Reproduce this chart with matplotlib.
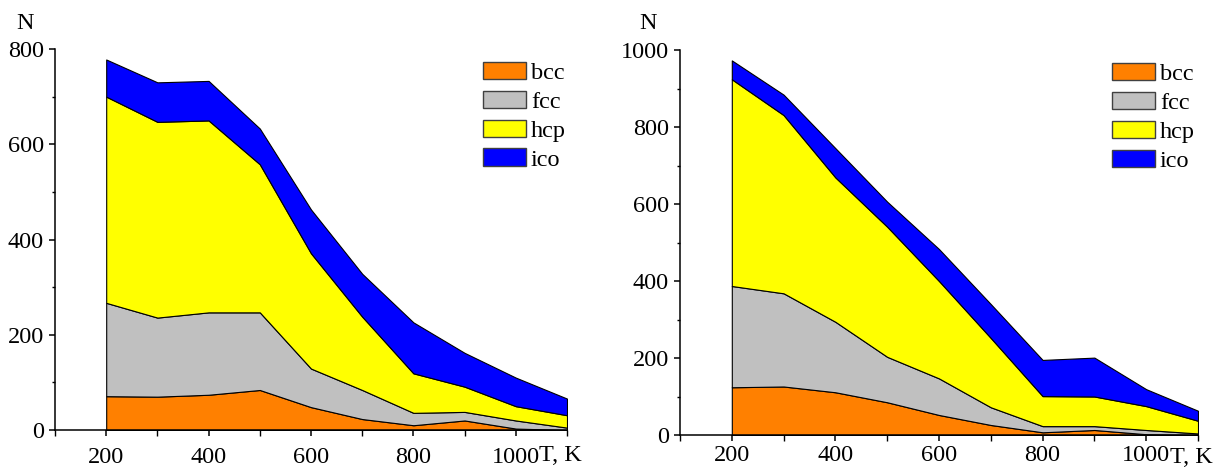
import matplotlib
matplotlib.use("Agg")
import matplotlib.pyplot as plt
from matplotlib.patches import Patch
from matplotlib.ticker import MultipleLocator
import numpy as np

plt.rcParams['font.family'] = ['Liberation Serif', 'DejaVu Serif']
FS = 17.5
plt.rcParams['font.size'] = FS

# Temperature grid, K
T = [200, 300, 400, 500, 600, 700, 800, 900, 1000, 1100]

structures = ["bcc", "fcc", "hcp", "ico"]
colors = ["#FF8000", "#C0C0C0", "#FFFF00", "#0000FF"]

# Number of atoms in each local structure (left panel)
bcc_a = [71, 70, 74, 84, 48, 23, 10, 20, 3, 0]
fcc_a = [196, 166, 173, 163, 81, 61, 26, 18, 17, 5]
hcp_a = [433, 411, 403, 311, 242, 154, 83, 53, 30, 26]
ico_a = [78, 83, 83, 75, 92, 90, 107, 71, 60, 35]

# Number of atoms in each local structure (right panel)
bcc_b = [124, 126, 111, 85, 52, 26, 7, 13, 2, 0]
fcc_b = [263, 242, 183, 118, 95, 46, 16, 10, 11, 4]
hcp_b = [537, 463, 375, 338, 253, 180, 78, 77, 62, 33]
ico_b = [49, 53, 76, 65, 83, 88, 94, 101, 44, 26]

W, H = 1224, 468
fig = plt.figure(figsize=(W / 100, H / 100), dpi=100)
ax1 = fig.add_axes([55 / W, (H - 430) / H, 512 / W, 381 / H])
ax2 = fig.add_axes([680 / W, (H - 435) / H, 518 / W, 385 / H])


def draw_panel(ax, layers, ymax, legend_anchor, n_x, tk_x, tk_y, xpad):
    base = np.zeros(len(T))
    for vals, col in zip(layers, colors):
        top = base + np.asarray(vals, dtype=float)
        ax.fill_between(T, base, top, facecolor=col, edgecolor="black",
                        linewidth=0.8)
        base = top
    ax.set_xlim(100, 1100)
    ax.set_ylim(0, ymax)
    for s in ("top", "right"):
        ax.spines[s].set_visible(False)
    for s in ("left", "bottom"):
        ax.spines[s].set_linewidth(1.1)
    ax.xaxis.set_minor_locator(MultipleLocator(100))
    ax.yaxis.set_major_locator(MultipleLocator(200))
    ax.yaxis.set_minor_locator(MultipleLocator(100))
    ax.set_xticks([200, 400, 600, 800, 1000])
    ax.tick_params(axis="both", which="major", direction="out", length=4,
                   width=1.1, labelsize=FS)
    ax.tick_params(axis="x", which="major", pad=xpad)
    ax.tick_params(axis="y", which="major", pad=4)
    ax.tick_params(axis="y", which="minor", direction="out", length=2.5,
                   width=1.0)
    ax.tick_params(axis="x", which="minor", direction="out", length=4,
                   width=1.0)
    fig.text(n_x / W, (H - 29) / H, "N", fontsize=FS, ha="center",
             va="baseline")
    fig.text(tk_x / W, (H - tk_y) / H, "T, K", fontsize=FS, ha="left",
             va="baseline")
    handles = [Patch(facecolor=c, edgecolor="#404040", linewidth=1.0, label=s)
               for s, c in zip(structures, colors)]
    ax.legend(handles=handles, loc="upper left", bbox_to_anchor=legend_anchor,
              frameon=False, fontsize=FS, handlelength=1.75, handleheight=0.72,
              handletextpad=0.22, labelspacing=0.28, borderpad=0.0,
              borderaxespad=0.0)


draw_panel(ax1, [bcc_a, fcc_a, hcp_a, ico_a], 800, (0.836, 0.967),
           25, 539, 461, 8)
draw_panel(ax2, [bcc_b, fcc_b, hcp_b, ico_b], 1000, (0.834, 0.967),
           648, 1170, 463, 3)

fig.savefig("out.png", dpi=100)
